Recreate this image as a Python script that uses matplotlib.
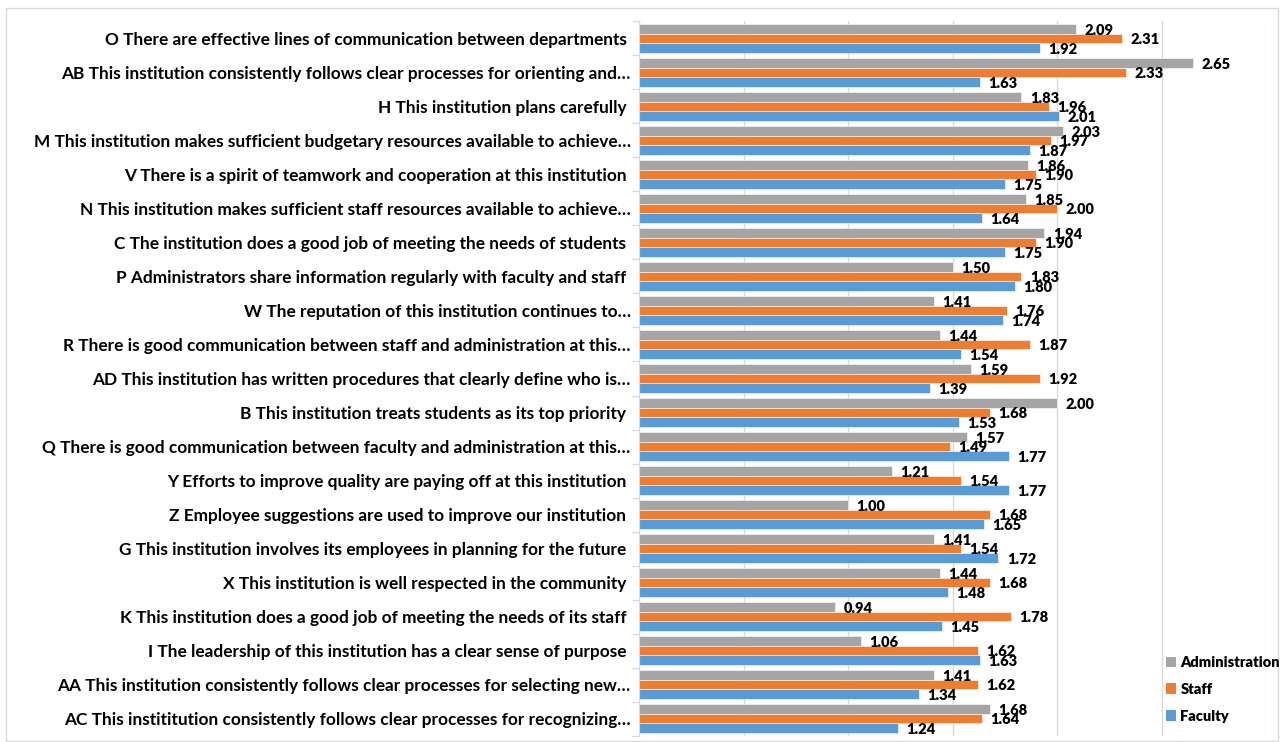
import matplotlib
matplotlib.use("Agg")
import matplotlib.pyplot as plt
import numpy as np
from matplotlib.patches import Patch, Rectangle

categories = [
    "O There are effective lines of communication between departments ",
    "AB This institution consistently follows clear processes for orienting and\u2026",
    "H This institution plans carefully ",
    "M This institution makes sufficient budgetary resources available to achieve\u2026",
    "V There is a spirit of teamwork and cooperation at this institution ",
    "N This institution makes sufficient staff resources available to achieve\u2026",
    "C The institution does a good job of meeting the needs of students ",
    "P Administrators share information regularly with faculty and staff ",
    "W The reputation of this institution continues to\u2026",
    "R There is good communication between staff and administration at this\u2026",
    "AD This institution has written procedures that clearly define who is\u2026",
    "B This institution treats students as its top priority ",
    "Q There is good communication between faculty and administration at this\u2026",
    "Y Efforts to improve quality are paying off at this institution ",
    "Z Employee suggestions are used to improve our institution ",
    "G This institution involves its employees in planning for the future ",
    "X This institution is well respected in the community ",
    "K This institution does a good job of meeting the needs of its staff ",
    "I The leadership of this institution has a clear sense of purpose ",
    "AA This institution consistently follows clear processes for selecting new\u2026",
    "AC This instititution consistently follows clear processes for recognizing\u2026",
]
administration = [2.09, 2.65, 1.83, 2.03, 1.86, 1.85, 1.94, 1.50, 1.41, 1.44, 1.59,
                  2.00, 1.57, 1.21, 1.00, 1.41, 1.44, 0.94, 1.06, 1.41, 1.68]
staff = [2.31, 2.33, 1.96, 1.97, 1.90, 2.00, 1.90, 1.83, 1.76, 1.87, 1.92,
         1.68, 1.49, 1.54, 1.68, 1.54, 1.68, 1.78, 1.62, 1.62, 1.64]
faculty = [1.92, 1.63, 2.01, 1.87, 1.75, 1.64, 1.75, 1.80, 1.74, 1.54, 1.39,
           1.53, 1.77, 1.77, 1.65, 1.72, 1.48, 1.45, 1.63, 1.34, 1.24]
series_names = ["Administration", "Staff", "Faculty"]
colors = ["#A5A5A5", "#ED7D31", "#5B9BD5"]

FONT = ["Lato", "DejaVu Sans"]
plt.rcParams["font.family"] = FONT

W, H = 1281, 742
fig = plt.figure(figsize=(W / 100, H / 100), dpi=100)

# chart border
fig.patches.append(Rectangle((6 / W, 1 - 741 / H), (1278 - 6) / W, (741 - 8) / H,
                             transform=fig.transFigure, fill=False,
                             edgecolor="#D9D9D9", linewidth=1.0))

ax = fig.add_axes([639 / W, 1 - 735.6 / H, (1266 - 639) / W, (735.6 - 21.4) / H])

n = len(categories)
y = np.arange(n)
h = 0.283
for vals, off, col in zip([administration, staff, faculty], [-h, 0, h], colors):
    ax.barh(y + off, vals, height=h, color=col, edgecolor="white", linewidth=0.4)
    for yy, v in zip(y + off, vals):
        ax.annotate(f"{v:.2f}", xy=(v, yy), xytext=(6, -1), textcoords="offset points",
                    ha="left", va="center", fontsize=10.5, fontweight="heavy", color="black")

ax.set_xlim(0, 3.0)
ax.set_ylim(n - 0.5, -0.5)
ax.set_xticks(np.arange(0, 3.01, 0.5))
ax.set_xticklabels([])
ax.tick_params(axis="x", length=0)
ax.grid(axis="x", color="#D9D9D9", linewidth=1.0)
ax.set_axisbelow(True)

ax.set_yticks(y)
ax.set_yticklabels(categories, fontsize=12.4, fontweight="bold")
ax.tick_params(axis="y", which="major", length=0, pad=6)
ax.set_yticks(np.arange(-0.5, n, 1.0), minor=True)
ax.tick_params(axis="y", which="minor", length=5, color="#D9D9D9", width=1)

for s in ["top", "right", "bottom"]:
    ax.spines[s].set_visible(False)
ax.spines["left"].set_color("#D9D9D9")

handles = [Patch(facecolor=c, edgecolor="none") for c in colors]
fig.legend(handles, series_names, loc="upper left",
           bbox_to_anchor=(1160 / W, 1 - 650 / H), frameon=False,
           prop={"weight": "heavy", "size": 10.5}, handlelength=0.7, handleheight=0.7,
           handletextpad=0.3, labelspacing=0.95, borderaxespad=0)

fig.savefig("out.png", dpi=100)
